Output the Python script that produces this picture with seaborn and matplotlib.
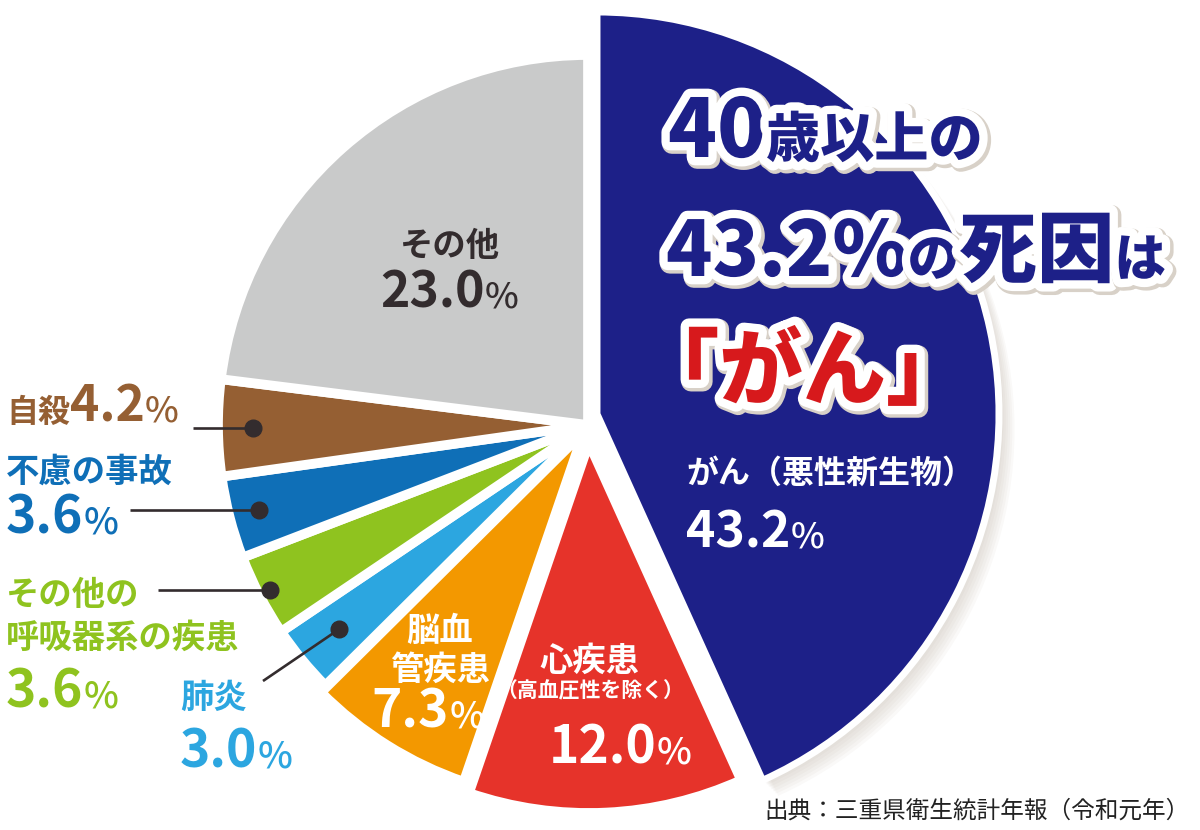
import numpy as np
import seaborn as sns
import matplotlib.pyplot as plt
import matplotlib.patheffects as pe

sns.set_theme(style="white")
plt.rcParams["font.family"] = ["Noto Sans CJK JP", "DejaVu Sans"]

# data (clockwise from 12 o'clock)
causes = ["がん（悪性新生物）", "心疾患（高血圧性を除く）", "脳血管疾患", "肺炎",
          "その他の呼吸器系の疾患", "不慮の事故", "自殺", "その他"]
shares = [43.2, 12.0, 7.3, 3.0, 3.6, 3.6, 4.2, 23.0]
share_labels = ["43.2", "12.0", "7.3", "3.0", "3.6", "3.6", "4.2", "23.0"]
palette = sns.color_palette(["#1d2088", "#e6332a", "#f39800", "#2ca6e0",
                             "#8fc31f", "#0f6fb7", "#955f33", "#c9caca"])
explode = [0, 18, 8, 0, 0, 0, 0, 0]

NAVY = "#1d2088"
RED = "#d7191c"
DARK = "#332c2e"
H = 830

fig = plt.figure(figsize=(12, 8.3), dpi=100)
ax = fig.add_axes([0, 0, 1, 1])

cx, cy = 588, H - 425
wedges, _ = ax.pie(shares, colors=palette, startangle=90, counterclock=False,
                   center=(cx, cy), radius=370, explode=explode,
                   wedgeprops=dict(edgecolor="white", linewidth=7))
ax.set_xlim(0, 1200)
ax.set_ylim(0, H)
ax.set_aspect("equal")
ax.axis("off")

# cancer slice pulled out and enlarged, with soft shadow
w0 = wedges[0]
w0.set_center((597, H - 414))
w0.set_radius(402)
w0.set_linewidth(5)
w0.set_zorder(3)
shadow = [pe.SimplePatchShadow(offset=(k * 1.6, -k * 1.6), shadow_rgbFace="#b9ad9f",
                               alpha=0.07) for k in range(1, 8)]
w0.set_path_effects(shadow + [pe.Normal()])

fig.canvas.draw()
renderer = fig.canvas.get_renderer()


def run(x, y, parts, ha="left", effects=None, zorder=5):
    """Place several text pieces on one baseline, one after another."""
    texts = []
    pos = x
    for s, size, weight, color in parts:
        t = ax.text(pos, H - y, s, fontsize=size, fontweight=weight, color=color,
                    ha="left", va="baseline", zorder=zorder)
        if effects:
            t.set_path_effects(effects)
        pos += t.get_window_extent(renderer).width
        texts.append(t)
    width = pos - x
    shift = {"left": 0, "center": -width / 2, "right": -width}[ha]
    for t in texts:
        t.set_x(t.get_position()[0] + shift)
    return texts


def pct(value, size, color):
    return [(value, size, "bold", color), ("%", size * 0.72, "medium", color)]


# headline
head_fx = [pe.Stroke(linewidth=14, foreground="#d8d1c8", offset=(1.5, -1.5)),
           pe.Stroke(linewidth=12, foreground="white"), pe.Normal()]
run(668, 157, [("40", 58, "black", NAVY), ("歳以上の", 39, "black", NAVY)], effects=head_fx)
run(666, 276, [("43.2%", 55, "black", NAVY), ("の", 37, "black", NAVY),
               ("死因", 56, "black", NAVY), ("は", 37, "black", NAVY)], effects=head_fx)
run(636, 398, [("「がん」", 60, "black", RED)], effects=head_fx)

# labels inside slices
W = "white"
run(686, 483, [("がん（悪性新生物）", 23, "bold", W)])
run(686, 548, pct(share_labels[0], 36, W))
run(590, 671, [("心疾患", 24, "bold", W)], ha="center")
run(590, 697, [("（高血圧性を除く）", 15, "bold", W)], ha="center")
run(620, 763, pct(share_labels[1], 37, W), ha="center")
run(440, 641, [("脳血", 24, "bold", W)], ha="center")
run(440, 680, [("管疾患", 24, "bold", W)], ha="center")
run(428, 727, pct(share_labels[2], 37, W), ha="center")
run(450, 256, [("その他", 24, "bold", DARK)], ha="center")
run(449, 308, pct(share_labels[7], 36, DARK), ha="center")

# outside labels
c_sui, c_acc, c_res, c_pne = palette[6], palette[5], palette[4], palette[3]
run(6, 422, [("自殺", 23, "bold", c_sui)] + pct(share_labels[6], 36, c_sui))
run(6, 482, [("不慮の事故", 24, "bold", c_acc)])
run(6, 533, pct(share_labels[5], 37, c_acc))
run(6, 605, [("その他の", 24, "bold", c_res)])
run(6, 648, [("呼吸器系の疾患", 24, "bold", c_res)])
run(6, 708, pct(share_labels[4], 37, c_res))
run(180, 708, [("肺炎", 24, "bold", c_pne)])
run(180, 767, pct(share_labels[3], 37, c_pne))


# leader lines with dots placed on the slices
def dot_pos(w, r):
    ang = np.deg2rad((w.theta1 + w.theta2) / 2)
    x0, y0 = w.center
    return x0 + r * np.cos(ang), y0 + r * np.sin(ang)


leaders = [(wedges[6], 335, (193, None)), (wedges[5], 340, (130, None)),
           (wedges[4], 358, (158, None)), (wedges[3], 322, (263, 681))]
for w, r, (lx, ly) in leaders:
    dx, dy = dot_pos(w, r)
    ey = dy if ly is None else H - ly
    ax.plot([lx, dx], [ey, dy], color=DARK, lw=1.9, zorder=4, solid_capstyle="butt")
    ax.plot(dx, dy, "o", color=DARK, ms=12, zorder=4)

# source
ax.text(1190, H - 818, "出典：三重県衛生統計年報（令和元年）", fontsize=17,
        color="#222222", ha="right", va="baseline")

fig.savefig("out.png", dpi=100, facecolor="white")
